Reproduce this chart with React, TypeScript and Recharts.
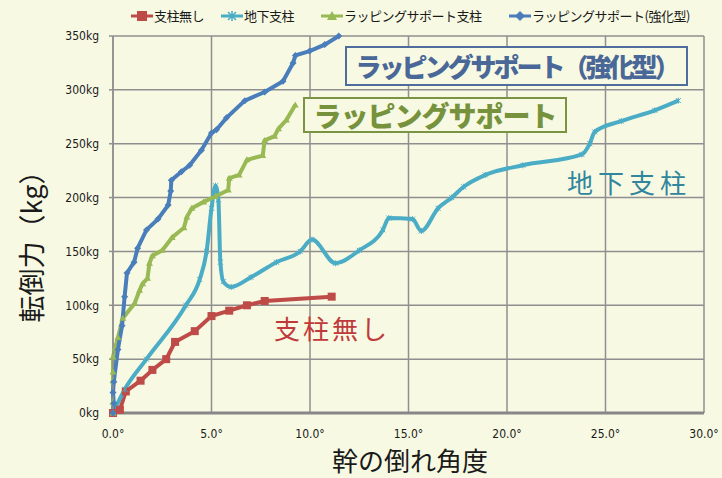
import { LineChart, Line, XAxis, YAxis, CartesianGrid } from 'recharts';

// 支柱無し
const noneAngle = [0, 0.35, 0.65, 1.4, 2.0, 2.7, 3.15, 4.15, 5.0, 5.9, 6.8, 7.7, 11.1];
const noneForce = [0, 3, 20, 30, 40, 50, 66, 76, 90, 95, 100, 104, 108];

// 地下支柱
const groundAngle = [0, 0.6, 1.7, 3.7, 4.4, 4.75, 5.0, 5.2, 5.35, 5.45, 5.6, 6.0, 7.0, 8.3, 9.5, 10.1, 11.3, 12.5, 13.7, 14.0, 15.2, 15.65, 16.5, 17.2, 17.8, 18.9, 20.8, 23.8, 24.2, 24.45, 25.8, 27.5, 28.7];
const groundForce = [0, 22, 50, 100, 124, 150, 190, 211, 198, 140, 122, 117, 126, 140, 150, 161, 139, 151, 170, 181, 180, 169, 190, 200, 210, 221, 230, 240, 250, 261, 271, 281, 290];

// ラッピングサポート支柱
const wrapAngle = [0, 0, 0, 0, 0, 0.1, 0.25, 0.5, 1.1, 1.35, 1.5, 1.75, 1.85, 2.0, 2.5, 3.0, 3.6, 3.75, 4.0, 4.6, 5.2, 5.85, 5.9, 6.4, 6.8, 7.6, 7.7, 8.2, 8.4, 8.8, 9.25];
const wrapForce = [0, 10, 30, 38, 52, 60, 70, 88, 102, 114, 120, 125, 139, 146, 151, 163, 172, 182, 190, 196, 201, 207, 218, 221, 235, 239, 253, 257, 264, 272, 286];

// ラッピングサポート（強化型）
const strongAngle = [0, 0.04, 0, 0.04, 0.25, 0.46, 0.59, 0.71, 1.07, 1.25, 1.7, 2.28, 2.8, 2.93, 2.96, 3.47, 3.89, 4.49, 5.0, 5.25, 5.76, 6.69, 7.7, 8.63, 9.14, 9.26, 9.98, 10.75, 11.46];
const strongForce = [0, 9, 19, 29, 59, 81, 108, 130, 140, 153, 170, 180, 193, 206, 216, 224, 230, 244, 260, 263, 274, 290, 298, 308, 325, 332, 336, 342, 350];

const xTicks = [0, 5, 10, 15, 20, 25, 30];
const yTicks = [0, 50, 100, 150, 200, 250, 300, 350];

const pts = (xs: number[], ys: number[]) => xs.map((x, i) => ({ x, y: ys[i] }));

const RED = '#be4b48';
const CYAN = '#4bacc6';
const GREEN = '#98b954';
const BLUE = '#4a7ebb';

const BG = '#f7f9e3';
const CJK = "'Noto Sans CJK JP', sans-serif";
const NARROW = "'Liberation Sans Narrow', 'DejaVu Sans Condensed', sans-serif";

const squareDot = (p: any) => (
  <rect key={`r${p.index}`} x={p.cx - 4} y={p.cy - 4} width={8} height={8} fill={RED} />
);
const starDot = (p: any) => (
  <path
    key={`c${p.index}`}
    d={`M${p.cx - 2.5},${p.cy - 2.5}L${p.cx + 2.5},${p.cy + 2.5}M${p.cx - 2.5},${p.cy + 2.5}L${p.cx + 2.5},${p.cy - 2.5}M${p.cx},${p.cy - 3}L${p.cx},${p.cy + 3}`}
    stroke={CYAN}
    strokeWidth={1}
  />
);
const triDot = (p: any) => (
  <path key={`g${p.index}`} d={`M${p.cx},${p.cy - 3.5}L${p.cx + 3.5},${p.cy + 2.5}L${p.cx - 3.5},${p.cy + 2.5}Z`} fill={GREEN} />
);
const diamondDot = (p: any) => (
  <path key={`b${p.index}`} d={`M${p.cx},${p.cy - 3.5}L${p.cx + 3.5},${p.cy}L${p.cx},${p.cy + 3.5}L${p.cx - 3.5},${p.cy}Z`} fill={BLUE} />
);

const legendItems = [
  { label: '支柱無し', color: RED, mark: 'square', x: 131 },
  { label: '地下支柱', color: CYAN, mark: 'star', x: 221 },
  { label: 'ラッピングサポート支柱', color: GREEN, mark: 'tri', x: 321 },
  { label: 'ラッピングサポート(強化型)', color: BLUE, mark: 'diamond', x: 509 },
];

function LegendMark({ mark, color }: { mark: string; color: string }) {
  return (
    <svg width={22} height={12} style={{ display: 'block' }}>
      <line x1={0} y1={6} x2={22} y2={6} stroke={color} strokeWidth={3} />
      {mark === 'square' && <rect x={6} y={1} width={10} height={10} fill={color} />}
      {mark === 'star' && (
        <path d="M7,2L15,10M7,10L15,2M11,1L11,11" stroke={color} strokeWidth={1.5} />
      )}
      {mark === 'tri' && <path d="M11,1L16,10L6,10Z" fill={color} />}
      {mark === 'diamond' && <path d="M11,1L16,6L11,11L6,6Z" fill={color} />}
    </svg>
  );
}

export default function App() {
  return (
    <div
      style={{
        position: 'fixed',
        left: 0,
        top: 0,
        width: 722,
        height: 478,
        background: BG,
        overflow: 'hidden',
      }}
    >
      <LineChart width={722} height={478} margin={{ top: 36, right: 18, bottom: 35, left: 13 }}>
        <CartesianGrid stroke="#8f8f8f" strokeWidth={1.5} />
        <XAxis
          type="number"
          dataKey="x"
          domain={[0, 30]}
          ticks={xTicks}
          height={30}
          tickFormatter={(v: number) => `${v.toFixed(1)}°`}
          tick={{ fontSize: 12, fill: '#1a1a1a', fontFamily: NARROW }}
          stroke="#878787"
          strokeWidth={3}
          tickLine={false}
          tickMargin={10}
        />
        <YAxis
          type="number"
          dataKey="y"
          domain={[0, 350]}
          ticks={yTicks}
          width={100}
          tickFormatter={(v: number) => `${v}kg`}
          tick={{ fontSize: 12, fill: '#1a1a1a', fontFamily: NARROW }}
          stroke="#8f8f8f"
          strokeWidth={1.5}
          tickSize={4}
          tickMargin={10}
        />
        <Line
          data={pts(noneAngle, noneForce)}
          dataKey="y"
          type="linear"
          stroke={RED}
          strokeWidth={4}
          dot={squareDot}
          isAnimationActive={false}
        />
        <Line
          data={pts(groundAngle, groundForce)}
          dataKey="y"
          type="monotone"
          stroke={CYAN}
          strokeWidth={4}
          dot={starDot}
          isAnimationActive={false}
        />
        <Line
          data={pts(wrapAngle, wrapForce)}
          dataKey="y"
          type="linear"
          stroke={GREEN}
          strokeWidth={4}
          dot={triDot}
          isAnimationActive={false}
        />
        <Line
          data={pts(strongAngle, strongForce)}
          dataKey="y"
          type="linear"
          stroke={BLUE}
          strokeWidth={4}
          dot={diamondDot}
          isAnimationActive={false}
        />
      </LineChart>

      {legendItems.map((it) => (
        <div
          key={it.label}
          style={{
            position: 'absolute',
            left: it.x,
            top: 8,
            display: 'flex',
            alignItems: 'center',
            gap: 1,
            fontFamily: CJK,
            fontSize: 13,
            letterSpacing: -0.5,
            color: '#1a1a1a',
            whiteSpace: 'nowrap',
            lineHeight: '16px',
          }}
        >
          <LegendMark mark={it.mark} color={it.color} />
          <span>{it.label}</span>
        </div>
      ))}

      <div
        style={{
          position: 'absolute',
          left: 345,
          top: 46,
          width: 339,
          height: 36,
          border: '2px solid #4f6d9c',
          background: BG,
          color: '#4a6897',
          fontFamily: CJK,
          fontWeight: 900,
          fontSize: 26,
          letterSpacing: -3,
          lineHeight: '36px',
          textAlign: 'center',
          whiteSpace: 'nowrap',
        }}
      >
        ラッピングサポート（強化型）
      </div>
      <div
        style={{
          position: 'absolute',
          left: 303,
          top: 97,
          width: 260,
          height: 32,
          border: '2px solid #7a9444',
          background: BG,
          color: '#76923c',
          fontFamily: CJK,
          fontWeight: 900,
          fontSize: 28,
          letterSpacing: -1,
          lineHeight: '32px',
          textAlign: 'center',
          whiteSpace: 'nowrap',
        }}
      >
        ラッピングサポート
      </div>

      <div
        style={{
          position: 'absolute',
          left: 274,
          top: 311,
          fontFamily: CJK,
          fontSize: 26,
          letterSpacing: 3,
          color: '#c0393b',
          whiteSpace: 'nowrap',
          lineHeight: '34px',
        }}
      >
        支柱無し
      </div>
      <div
        style={{
          position: 'absolute',
          left: 567,
          top: 165,
          fontFamily: CJK,
          fontSize: 26,
          letterSpacing: 5,
          color: '#31859c',
          whiteSpace: 'nowrap',
          lineHeight: '34px',
        }}
      >
        地下支柱
      </div>

      <div
        style={{
          position: 'absolute',
          left: 410,
          top: 446,
          transform: 'translateX(-50%)',
          fontFamily: CJK,
          fontSize: 26,
          lineHeight: '28px',
          color: '#1a1a1a',
          whiteSpace: 'nowrap',
        }}
      >
        幹の倒れ角度
      </div>
      <div
        style={{
          position: 'absolute',
          left: 30,
          top: 240,
          transform: 'translate(-50%, -50%) rotate(-90deg)',
          fontFamily: CJK,
          fontSize: 27,
          lineHeight: 1,
          color: '#1a1a1a',
          whiteSpace: 'nowrap',
        }}
      >
        転倒力（kg）
      </div>
    </div>
  );
}
